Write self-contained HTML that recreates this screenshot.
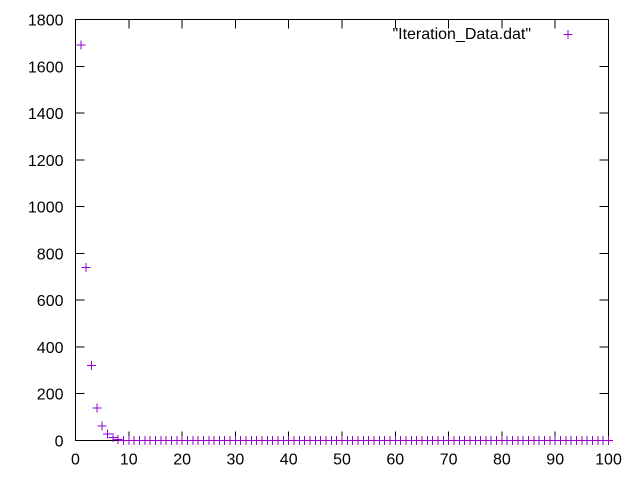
<!DOCTYPE html>
<html><head><meta charset="utf-8"><style>body{margin:0;background:#fff}svg{display:block}text{font-family:"Liberation Sans",sans-serif;font-size:16px;fill:#000}</style></head>
<body>
<svg id="chart" width="640" height="480" xmlns="http://www.w3.org/2000/svg" shape-rendering="crispEdges">
<g id="axes"></g><g id="pts"></g>
<text x="531" y="39" text-anchor="end">"Iteration_Data.dat"</text>
<g stroke="#9400d3" stroke-width="1"><line x1="563.5" y1="34.5" x2="572.5" y2="34.5"/><line x1="568" y1="30" x2="568" y2="39"/></g>
</svg>
<script>
const xTicks=[0,10,20,30,40,50,60,70,80,90,100];
const yTicks=[0,200,400,600,800,1000,1200,1400,1600,1800];
const headX=[1,2,3,4,5,6,7,8];
const headY=[1690,740,320,140,62,27,12,5];
const tailStart=9, tailEnd=100, tailValue=0.5;
const L=75.5,R=608.5,T=19.5,B=440.5;
const sx=v=>L+(v-0)/(100-0)*(R-L);
const sy=v=>B-(v-0)/(1800-0)*(B-T);
const NS="http://www.w3.org/2000/svg";
const ax=document.getElementById('axes'),pg=document.getElementById('pts');
function mk(t,a,p){const e=document.createElementNS(NS,t);for(const k in a)e.setAttribute(k,a[k]);p.appendChild(e);return e;}
const fr=mk('rect',{x:L,y:T,width:R-L,height:B-T,fill:'none',stroke:'#000','stroke-width':1},ax);


xTicks.forEach(v=>{const x=sx(v);
mk('line',{x1:x,y1:B,x2:x,y2:B-9,stroke:'#000'},ax);mk('line',{x1:x,y1:T,x2:x,y2:T+9,stroke:'#000'},ax);
const t=mk('text',{x:x,y:B+24,'text-anchor':'middle'},ax);t.textContent=v;

});
yTicks.forEach(v=>{const y=sy(v);
mk('line',{x1:L,y1:y,x2:L+9,y2:y,stroke:'#000'},ax);mk('line',{x1:R,y1:y,x2:R-9,y2:y,stroke:'#000'},ax);
const t=mk('text',{x:L-12,y:y+6,'text-anchor':'end'},ax);t.textContent=v;

});
const xs=headX.slice(),ys=headY.slice();
for(let i=tailStart;i<=tailEnd;i++){xs.push(i);ys.push(tailValue);}
xs.forEach((xv,i)=>{const x=sx(xv),y=sy(ys[i]);
const g=mk('g',{stroke:'#9400d3','stroke-width':1},pg);


mk('line',{x1:x-4.5,y1:y,x2:x+4.5,y2:y},g);mk('line',{x1:x,y1:y-4.5,x2:x,y2:y+4.5},g);});
</script>
</body></html>
